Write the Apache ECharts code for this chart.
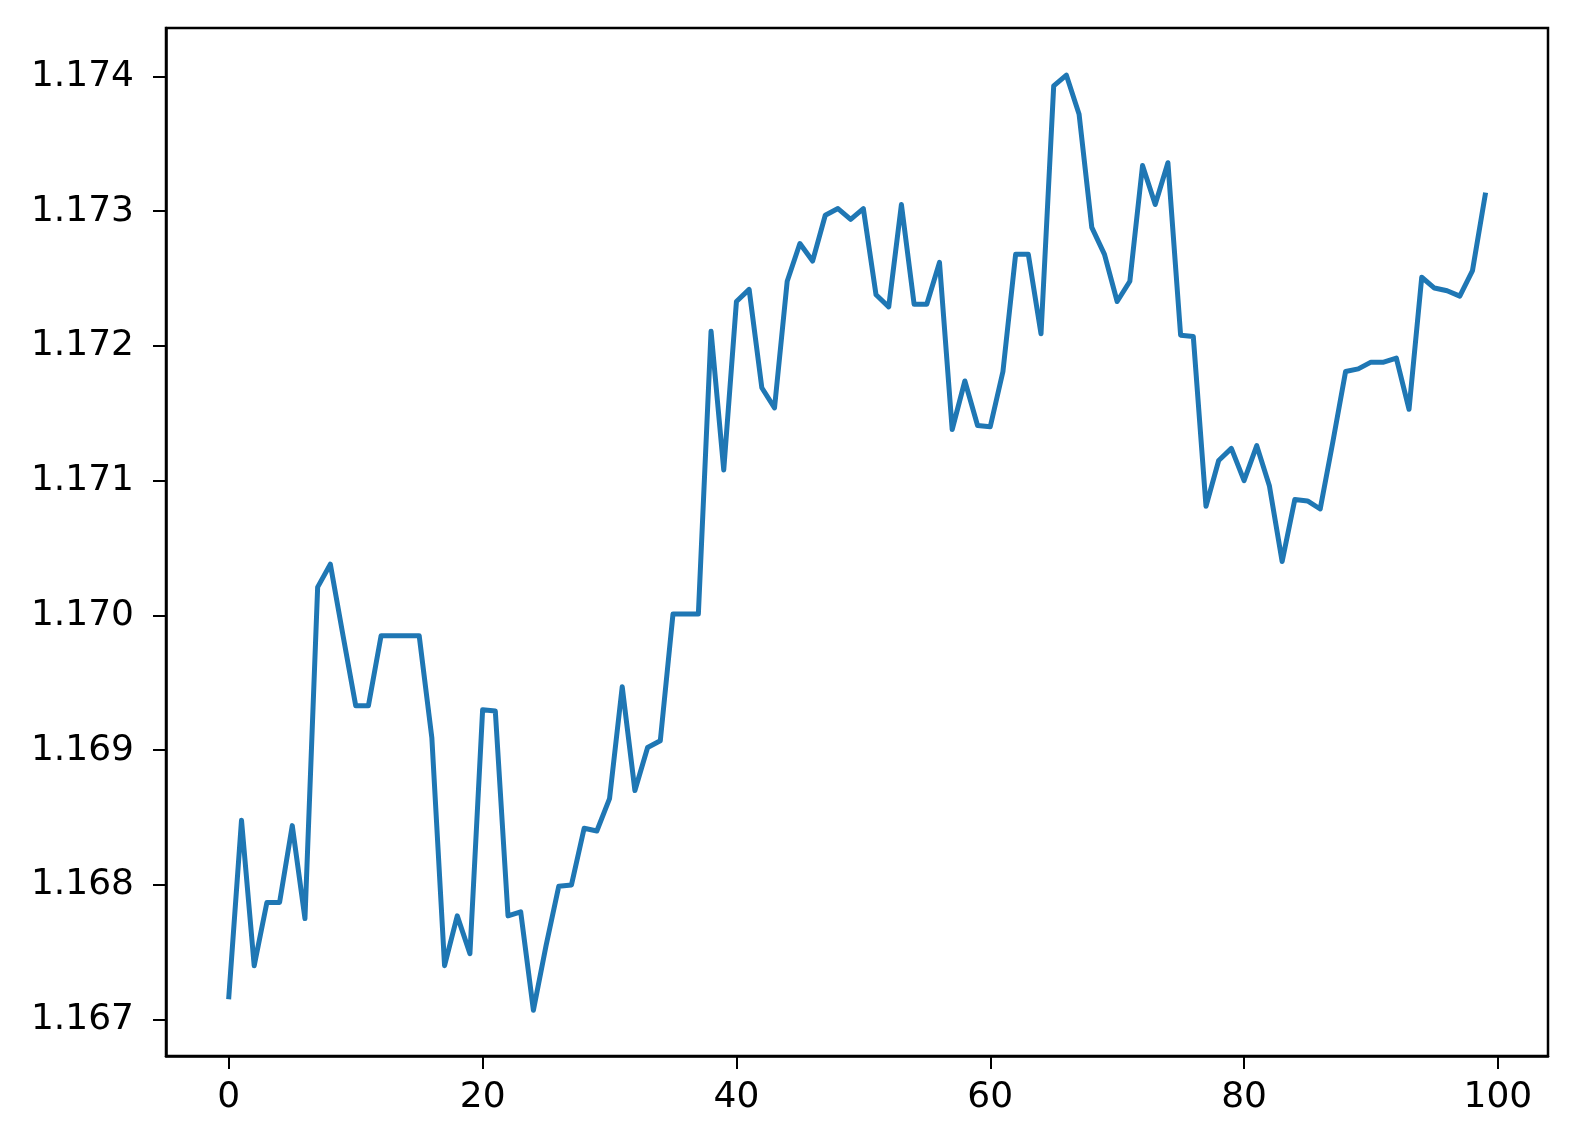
<!DOCTYPE html>
<html>
<head>
<meta charset="utf-8">
<script src="https://cdn.jsdelivr.net/npm/echarts@6/dist/echarts.min.js"></script>
<style>
  html, body { margin: 0; padding: 0; background: #fff; }
  #chart { width: 1575px; height: 1136px; }
</style>
</head>
<body>
<div id="chart"></div>
<script>
// price series, one value per step
var prices = [
  1.16717, 1.16848, 1.16740, 1.16787, 1.16787, 1.16844, 1.16775, 1.17021, 1.17038, 1.16985,
  1.16933, 1.16933, 1.16985, 1.16985, 1.16985, 1.16985, 1.16909, 1.16740, 1.16777, 1.16749,
  1.16930, 1.16929, 1.16777, 1.16780, 1.16707, 1.16755, 1.16799, 1.16800, 1.16842, 1.16840,
  1.16864, 1.16947, 1.16870, 1.16902, 1.16907, 1.17001, 1.17001, 1.17001, 1.17211, 1.17108,
  1.17233, 1.17242, 1.17169, 1.17154, 1.17248, 1.17276, 1.17263, 1.17297, 1.17302, 1.17294,
  1.17302, 1.17238, 1.17229, 1.17305, 1.17231, 1.17231, 1.17262, 1.17138, 1.17174, 1.17141,
  1.17140, 1.17181, 1.17268, 1.17268, 1.17209, 1.17393, 1.17401, 1.17372, 1.17288, 1.17268,
  1.17233, 1.17248, 1.17334, 1.17305, 1.17336, 1.17208, 1.17207, 1.17081, 1.17115, 1.17124,
  1.17100, 1.17126, 1.17096, 1.17040, 1.17086, 1.17085, 1.17079, 1.17129, 1.17181, 1.17183,
  1.17188, 1.17188, 1.17191, 1.17153, 1.17251, 1.17243, 1.17241, 1.17237, 1.17256, 1.17312
];
var xTicks = [0, 20, 40, 60, 80, 100];
var yTicks = [1.167, 1.168, 1.169, 1.170, 1.171, 1.172, 1.173, 1.174];

var chart = echarts.init(document.getElementById('chart'));

var labelFont = {
    color: '#000',
    fontSize: 36,
    fontFamily: 'DejaVu Sans'
};

var option = {
    animation: false,
    backgroundColor: '#fff',
    grid: {
        left: 166,
        right: 27,
        top: 28,
        bottom: 80,
        show: true,
        borderColor: '#000',
        borderWidth: 2.5,
        backgroundColor: 'transparent'
    },
    xAxis: {
        type: 'value',
        min: -4.95,
        max: 103.95,
        splitLine: { show: false },
        axisLine: { show: true, onZero: false, lineStyle: { color: '#000', width: 2.5 } },
        axisTick: {
            show: true,
            length: 13,
            customValues: xTicks,
            lineStyle: { color: '#000', width: 2 }
        },
        axisLabel: Object.assign({
            margin: 24,
            customValues: xTicks,
            showMinLabel: true,
            showMaxLabel: true
        }, labelFont)
    },
    yAxis: {
        type: 'value',
        min: 1.16673,
        max: 1.17436,
        splitLine: { show: false },
        axisLine: { show: true, onZero: false, lineStyle: { color: '#000', width: 2.5 } },
        axisTick: {
            show: true,
            length: 13,
            customValues: yTicks,
            lineStyle: { color: '#000', width: 2 }
        },
        axisLabel: Object.assign({
            margin: 32,
            customValues: yTicks,
            formatter: function (v) {
                return v.toFixed(3);
            }
        }, labelFont)
    },
    series: [
        {
            type: 'line',
            data: prices.map(function (v, i) { return [i, v]; }),
            showSymbol: false,
            symbol: 'none',
            lineStyle: { color: '#1f77b4', width: 5, join: 'round', cap: 'square' },
            itemStyle: { color: '#1f77b4' }
        }
    ]
};

chart.setOption(option);
</script>
</body>
</html>
